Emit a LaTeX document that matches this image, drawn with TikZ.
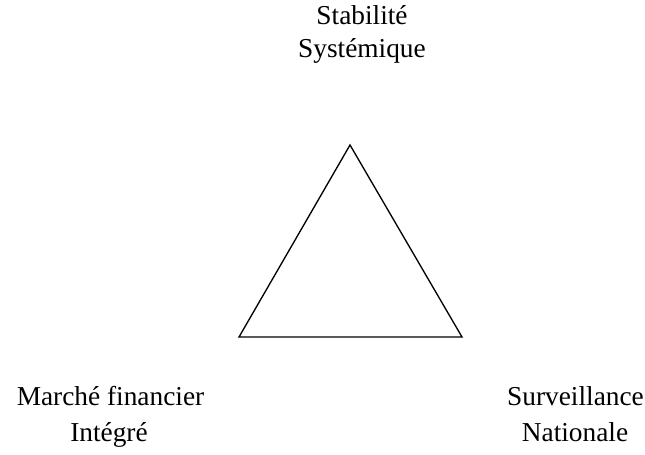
\documentclass[tikz,border=0pt]{standalone}
\usepackage{fontspec}
\setmainfont{Liberation Serif}
\usepackage{tikz}

\begin{document}
\begin{tikzpicture}[x=0.75pt,y=-0.75pt]
\useasboundingbox (0,0) rectangle (645,454);

\tikzset{label/.style={font=\fontsize{20.5}{25}\selectfont, anchor=base, inner sep=0pt}}

\node[label] (stab) at (362,24) {Stabilité};
\node[label] (syst) at (362,57) {Systémique};
\node[label] (march) at (110.5,405) {Marché financier};
\node[label] (integ) at (109,441) {Intégré};
\node[label] (surv) at (575.5,405) {Surveillance};
\node[label] (nat) at (575,441) {Nationale};

\coordinate (top) at (350,145);
\coordinate (left) at (239,337);
\coordinate (right) at (462,337);

\draw[line width=1pt] (top) -- (right) -- (left) -- cycle;
\end{tikzpicture}
\end{document}
